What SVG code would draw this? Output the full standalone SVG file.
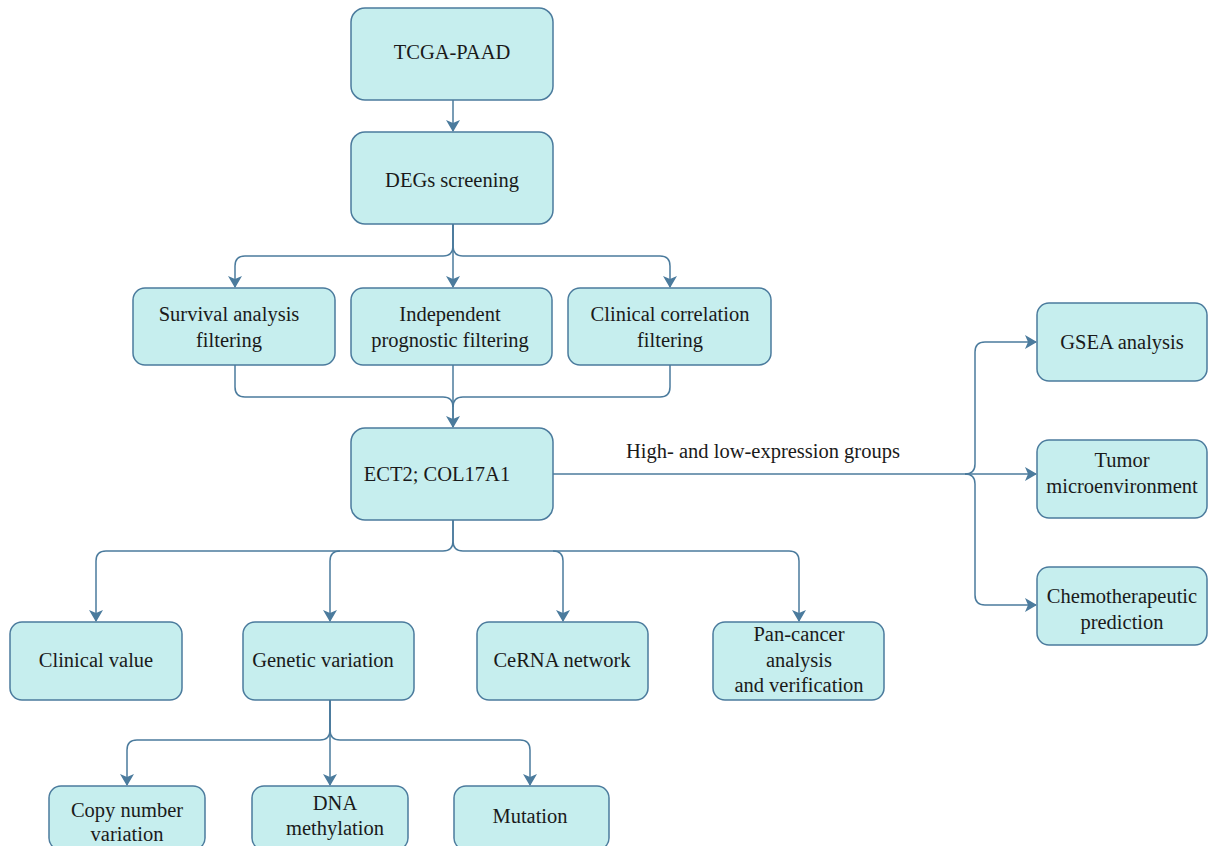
<svg xmlns="http://www.w3.org/2000/svg" width="1209" height="846" viewBox="0 0 1209 846">
<style>
.box{fill:#c6eeee;stroke:#4b7b9d;stroke-width:1.5}
.t{font-family:"Liberation Serif",serif;font-size:20.5px;fill:#1a1a1a;text-anchor:middle}
.c{fill:none;stroke:#4b7b9d;stroke-width:1.5}
</style>
<defs>
<marker id="ah" viewBox="0 0 12 14" refX="11" refY="7" markerWidth="12" markerHeight="14" markerUnits="userSpaceOnUse" orient="auto">
<path d="M0,0 L12,7 L0,14 L3,7 Z" fill="#4b7b9d"/>
</marker>
</defs>
<rect width="1209" height="846" fill="#ffffff"/>
<g id="connectors">
<path class="c" d="M453,100 V131" marker-end="url(#ah)"/>
<path class="c" d="M453,224 V246 Q453,256 443,256 H245 Q235,256 235,266 V287" marker-end="url(#ah)"/>
<path class="c" d="M453,224 V287" marker-end="url(#ah)"/>
<path class="c" d="M453,224 V246 Q453,256 463,256 H660 Q670,256 670,266 V287" marker-end="url(#ah)"/>
<path class="c" d="M235,365 V387 Q235,397 245,397 H443 Q453,397 453,407 V427" marker-end="url(#ah)"/>
<path class="c" d="M453,365 V427"/>
<path class="c" d="M670,365 V387 Q670,397 660,397 H463 Q453,397 453,407"/>
<path class="c" d="M553,474 H1036" marker-end="url(#ah)"/>
<path class="c" d="M965,474 Q975,474 975,464 V352 Q975,342 985,342 H1036" marker-end="url(#ah)"/>
<path class="c" d="M965,474 Q975,474 975,484 V595 Q975,605 985,605 H1036" marker-end="url(#ah)"/>
<path class="c" d="M453,520 V541 Q453,551 443,551 H106 Q96,551 96,561 V621" marker-end="url(#ah)"/>
<path class="c" d="M340,551 Q330,551 330,561 V621" marker-end="url(#ah)"/>
<path class="c" d="M453,520 V541 Q453,551 463,551 H789 Q799,551 799,561 V621" marker-end="url(#ah)"/>
<path class="c" d="M553,551 Q563,551 563,561 V621" marker-end="url(#ah)"/>
<path class="c" d="M330,700 V730 Q330,740 320,740 H137 Q127,740 127,750 V785" marker-end="url(#ah)"/>
<path class="c" d="M330,700 V785" marker-end="url(#ah)"/>
<path class="c" d="M330,700 V730 Q330,740 340,740 H520 Q530,740 530,750 V785" marker-end="url(#ah)"/>
</g>
<g id="tcga"><rect class="box" x="351" y="8" width="202" height="92" rx="14"/><text class="t" x="452" y="59">TCGA-PAAD</text></g>
<g id="degs"><rect class="box" x="351" y="132" width="202" height="92" rx="14"/><text class="t" x="452" y="187">DEGs screening</text></g>
<g id="survival"><rect class="box" x="133" y="288" width="202" height="77" rx="12"/><text class="t" x="229" y="321">Survival analysis</text><text class="t" x="229" y="347">filtering</text></g>
<g id="independent"><rect class="box" x="351" y="288" width="201" height="77" rx="12"/><text class="t" x="450" y="321">Independent</text><text class="t" x="450" y="347">prognostic filtering</text></g>
<g id="clinicalcorr"><rect class="box" x="568" y="288" width="203" height="77" rx="12"/><text class="t" x="670" y="321">Clinical correlation</text><text class="t" x="670" y="347">filtering</text></g>
<g id="ect2"><rect class="box" x="351" y="428" width="202" height="92" rx="14"/><text class="t" x="437" y="481">ECT2; COL17A1</text></g>
<text class="t" x="763" y="458">High- and low-expression groups</text>
<g id="gsea"><rect class="box" x="1037" y="303" width="170" height="78" rx="12"/><text class="t" x="1122" y="349">GSEA analysis</text></g>
<g id="tumor"><rect class="box" x="1037" y="440" width="170" height="78" rx="12"/><text class="t" x="1122" y="467">Tumor</text><text class="t" x="1122" y="493">microenvironment</text></g>
<g id="chemo"><rect class="box" x="1037" y="567" width="170" height="78" rx="12"/><text class="t" x="1122" y="603">Chemotherapeutic</text><text class="t" x="1122" y="629">prediction</text></g>
<g id="clinicalvalue"><rect class="box" x="10" y="622" width="172" height="78" rx="12"/><text class="t" x="96" y="667">Clinical value</text></g>
<g id="genetic"><rect class="box" x="243" y="622" width="171" height="78" rx="12"/><text class="t" x="323" y="667">Genetic variation</text></g>
<g id="cerna"><rect class="box" x="477" y="622" width="171" height="78" rx="12"/><text class="t" x="562" y="667">CeRNA network</text></g>
<g id="pancancer"><rect class="box" x="713" y="622" width="171" height="78" rx="12"/><text class="t" x="799" y="641">Pan-cancer</text><text class="t" x="799" y="667">analysis</text><text class="t" x="799" y="692">and verification</text></g>
<g id="copynumber"><rect class="box" x="49" y="786" width="156" height="64" rx="12"/><text class="t" x="127" y="817">Copy number</text><text class="t" x="127" y="841">variation</text></g>
<g id="dna"><rect class="box" x="252" y="786" width="156" height="64" rx="12"/><text class="t" x="335" y="810">DNA</text><text class="t" x="335" y="835">methylation</text></g>
<g id="mutation"><rect class="box" x="454" y="786" width="155" height="64" rx="12"/><text class="t" x="530" y="823">Mutation</text></g>
</svg>
